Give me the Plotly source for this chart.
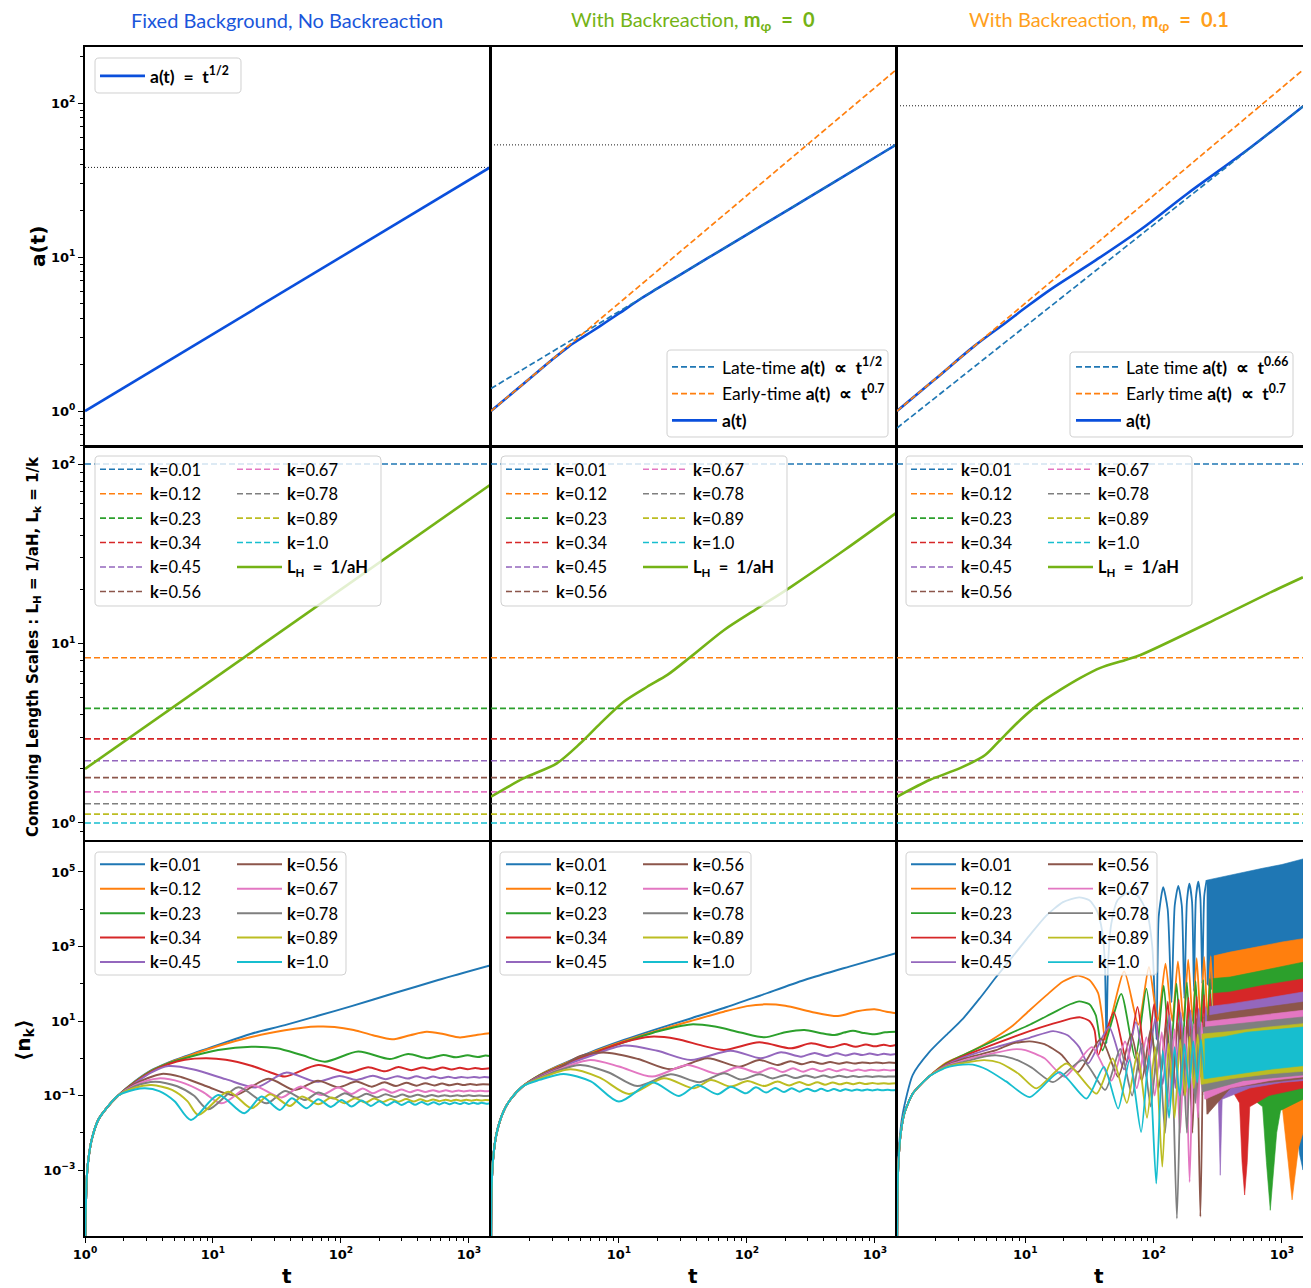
import math
import plotly.graph_objects as go

# page offset of the plot inside the browser page (default body margin)
OFF = 8
FW, FH = 1311 - OFF, 1288 - OFF


def PX(v):
    return (v - OFF) / FW


def PY(v):
    return 1 - (v - OFF) / FH


TAB = ['#1f77b4', '#ff7f0e', '#2ca02c', '#d62728', '#9467bd',
       '#8c564b', '#e377c2', '#7f7f7f', '#bcbd22', '#17becf']
A_BLUE = '#0a4fdc'
LH_GREEN = '#74b316'
TITLE_COLORS = ['#1a56db', '#74b316', '#ff9f1c']
SP = '\u2002'

# ---------------- Row 1 : scale factor a(t) ----------------
T_ENDS = [1.0, 1460.0]
A_FIXED = [1.0, 38.2]
A_BR0_T = [1, 2, 3, 4, 5, 6, 8, 10, 15, 20, 30, 50, 100, 300, 1000, 1460]
A_BR0 = [1.0, 1.62, 2.15, 2.6, 2.95, 3.25, 3.8, 4.3, 5.4, 6.25, 7.67, 9.9, 14.0, 24.2, 44.3, 53.5]
A_BR0_LATE = [1.4, 53.5]
A_BR0_EARLY = [1.0, 164.0]
A_BR1_T = [1, 2, 3.98, 7.08, 10, 15.8, 35.5, 79.4, 182, 537, 1460]
A_BR1 = [1.0, 1.62, 2.63, 3.76, 4.68, 6.17, 9.55, 15.1, 25.7, 49.5, 95.1]
A_BR1_LATE = [0.776, 95.0]
A_BR1_EARLY = [1.0, 164.0]
A_FINAL = [38.2, 53.5, 96.0]

# ---------------- Row 2 : comoving length scales ----------------
K_LABELS = ['0.01', '0.12', '0.23', '0.34', '0.45', '0.56', '0.67', '0.78', '0.89', '1.0']
LK_VALUES = [100.0, 8.33, 4.35, 2.94, 2.22, 1.79, 1.49, 1.28, 1.12, 1.0]
LH_FIXED = [2.0, 76.4]
LH_BR0_T = [1, 1.79, 3.27, 4.99, 7.16, 10.9, 16.6, 23.9, 36.4, 66.4, 121, 221, 579, 1460]
LH_BR0 = [1.40, 1.77, 2.15, 2.78, 3.59, 4.74, 5.74, 6.68, 8.43, 11.9, 15.7, 20.7, 33.2, 53.3]
LH_BR1_T = [1, 1.81, 3.10, 4.87, 6.38, 9.14, 13.1, 18.7, 26.9, 38.5, 60.3, 79.1, 316, 794, 1460]
LH_BR1 = [1.40, 1.74, 2.02, 2.39, 2.90, 3.75, 4.67, 5.51, 6.43, 7.31, 8.09, 8.63, 13.8, 19.1, 23.4]

# ---------------- Row 3 : occupation numbers (log10 t, log10 n) ----------------
FIX_RISE_LOGT = [0.0005, 0.004, 0.008, 0.013, 0.026, 0.052, 0.104, 0.156, 0.26]
FIX_RISE_LOGN = [-5.6, -4.3, -3.8, -3.26, -2.73, -2.19, -1.65, -1.39, -1.0]
FIX_K001_LOGT = [0.39, 0.52, 0.65, 0.78, 1.04, 1.30, 1.5625, 1.82, 2.083, 2.40, 2.76, 3.165]
FIX_K001_LOGN = [-0.62, -0.32, -0.12, 0.05, 0.36, 0.66, 0.89, 1.14, 1.40, 1.73, 2.10, 2.49]
FIX_K012_LOGT = [0.39, 0.52, 0.65, 0.78, 1.04, 1.30, 1.5625, 1.70, 1.82, 1.95, 2.10, 2.25, 2.40, 2.54, 2.67, 2.80, 2.93, 3.05, 3.165]
FIX_K012_LOGN = [-0.63, -0.33, -0.13, 0.03, 0.33, 0.57, 0.75, 0.82, 0.85, 0.84, 0.76, 0.62, 0.51, 0.62, 0.71, 0.65, 0.56, 0.62, 0.67]
FIX_K023_LOGT = [0.39, 0.52, 0.65, 0.78, 1.04, 1.30, 1.50, 1.70, 1.875, 2.135, 2.383, 2.526, 2.682, 2.80, 2.90, 2.99, 3.07, 3.13, 3.165]
FIX_K023_LOGN = [-0.64, -0.34, -0.14, 0.0, 0.22, 0.31, 0.27, 0.08, -0.09, 0.18, -0.02, 0.115, 0.0, 0.09, 0.025, 0.08, 0.035, 0.075, 0.06]
FIX_K034_LOGT = [0.39, 0.52, 0.65, 0.78, 0.95, 1.10, 1.30, 1.45, 1.5625, 1.823, 2.057, 2.214, 2.344, 2.45, 2.55, 2.64, 2.72, 2.795, 2.865, 2.93, 2.99, 3.05, 3.105, 3.165]
FIX_K034_LOGN = [-0.65, -0.36, -0.16, -0.04, 0.0, -0.04, -0.20, -0.38, -0.49, -0.18, -0.385, -0.24, -0.35, -0.235, -0.32, -0.245, -0.31, -0.25, -0.30, -0.255, -0.295, -0.26, -0.29, -0.27]
FIX_K045_LOGT = [0.39, 0.52, 0.651, 0.85, 1.10, 1.34, 1.57, 1.81, 1.99, 2.12, 2.25, 2.35, 2.44, 2.52, 2.59, 2.66, 2.72, 2.78, 2.84, 2.89, 2.94, 2.99, 3.04, 3.08, 3.12, 3.165]
FIX_K045_LOGN = [-0.67, -0.38, -0.21, -0.30, -0.56, -0.78, -0.385, -0.63, -0.475, -0.58, -0.47, -0.56, -0.48, -0.545, -0.485, -0.54, -0.49, -0.535, -0.495, -0.53, -0.50, -0.525, -0.50, -0.52, -0.505, -0.515]
FIX_K056_LOGT = [0.39, 0.599, 0.75, 0.95, 1.172, 1.432, 1.64, 1.82, 1.98, 2.12, 2.24, 2.34, 2.43, 2.51, 2.59, 2.66, 2.73, 2.79, 2.85, 2.91, 2.96, 3.01, 3.06, 3.11, 3.165]
FIX_K056_LOGN = [-0.69, -0.42, -0.50, -0.75, -0.99, -0.55, -0.85, -0.60, -0.778, -0.626, -0.761, -0.645, -0.745, -0.66, -0.735, -0.67, -0.73, -0.68, -0.725, -0.685, -0.72, -0.69, -0.715, -0.695, -0.705]
FIX_K067_LOGT = [0.39, 0.573, 0.75, 0.92, 1.068, 1.302, 1.536, 1.68, 1.849, 1.979, 2.083, 2.17, 2.25, 2.33, 2.40, 2.47, 2.54, 2.60, 2.66, 2.72, 2.77, 2.82, 2.87, 2.92, 2.96, 3.01, 3.05, 3.09, 3.13, 3.165]
FIX_K067_LOGN = [-0.72, -0.54, -0.64, -0.90, -1.21, -0.725, -1.05, -0.761, -0.984, -0.787, -0.957, -0.81, -0.94, -0.83, -0.925, -0.84, -0.91, -0.85, -0.905, -0.855, -0.90, -0.86, -0.895, -0.865, -0.89, -0.868, -0.888, -0.87, -0.885, -0.875]
FIX_K078_LOGT = [0.39, 0.547, 0.72, 0.85, 0.964, 1.198, 1.419, 1.5625, 1.719, 1.823, 1.94, 2.03, 2.12, 2.20, 2.28, 2.35, 2.42, 2.48, 2.54, 2.60, 2.66, 2.71, 2.76, 2.81, 2.86, 2.91, 2.95, 3.0, 3.04, 3.08, 3.12, 3.165]
FIX_K078_LOGN = [-0.75, -0.63, -0.75, -1.0, -1.37, -0.78, -1.21, -0.877, -1.118, -0.921, -1.082, -0.94, -1.06, -0.955, -1.05, -0.965, -1.04, -0.975, -1.035, -0.98, -1.03, -0.985, -1.025, -0.99, -1.02, -0.995, -1.02, -0.995, -1.015, -0.998, -1.013, -1.005]
FIX_K089_LOGT = [0.39, 0.521, 0.68, 0.80, 0.885, 1.12, 1.302, 1.445, 1.602, 1.693, 1.823, 1.927, 2.03, 2.11, 2.19, 2.26, 2.33, 2.39, 2.45, 2.51, 2.57, 2.62, 2.67, 2.72, 2.77, 2.82, 2.86, 2.90, 2.94, 2.98, 3.02, 3.06, 3.10, 3.13, 3.165]
FIX_K089_LOGN = [-0.79, -0.72, -0.85, -1.15, -1.52, -0.895, -1.341, -0.966, -1.279, -1.029, -1.234, -1.055, -1.207, -1.07, -1.19, -1.08, -1.175, -1.09, -1.165, -1.095, -1.16, -1.10, -1.155, -1.105, -1.15, -1.11, -1.145, -1.11, -1.14, -1.115, -1.14, -1.115, -1.135, -1.12, -1.13]
FIX_K100_LOGT = [0.39, 0.469, 0.58, 0.70, 0.828, 1.042, 1.245, 1.38, 1.523, 1.615, 1.732, 1.823, 1.922, 2.005, 2.083, 2.161, 2.234, 2.30, 2.36, 2.42, 2.475, 2.53, 2.58, 2.63, 2.68, 2.725, 2.77, 2.81, 2.85, 2.89, 2.93, 2.965, 3.0, 3.035, 3.07, 3.10, 3.135, 3.165]
FIX_K100_LOGN = [-0.84, -0.805, -0.88, -1.15, -1.654, -0.984, -1.475, -1.029, -1.386, -1.073, -1.341, -1.10, -1.306, -1.118, -1.297, -1.136, -1.279, -1.15, -1.265, -1.16, -1.255, -1.17, -1.25, -1.175, -1.245, -1.18, -1.24, -1.185, -1.235, -1.19, -1.23, -1.19, -1.225, -1.195, -1.22, -1.195, -1.22, -1.205]

BR0_RISE_LOGT = [0.0005, 0.005, 0.018, 0.044, 0.097, 0.149, 0.253]
BR0_RISE_LOGN = [-5.5, -3.44, -2.64, -2.01, -1.43, -1.12, -0.74]
BR0_K001_LOGT = [0.38, 0.515, 0.776, 1.038, 1.30, 1.561, 1.82, 2.10, 2.45, 2.80, 3.165]
BR0_K001_LOGN = [-0.45, -0.22, 0.16, 0.49, 0.79, 1.07, 1.35, 1.68, 2.10, 2.46, 2.82]
BR0_K012_LOGT = [0.38, 0.515, 0.776, 1.038, 1.30, 1.561, 1.82, 2.0, 2.136, 2.30, 2.50, 2.711, 2.86, 2.998, 3.09, 3.165]
BR0_K012_LOGN = [-0.45, -0.23, 0.14, 0.46, 0.74, 1.0, 1.25, 1.40, 1.447, 1.41, 1.25, 1.134, 1.26, 1.313, 1.25, 1.21]
BR0_K023_LOGT = [0.38, 0.515, 0.776, 1.038, 1.30, 1.561, 1.75, 1.95, 2.136, 2.30, 2.45, 2.57, 2.685, 2.76, 2.829, 2.91, 2.998, 3.08, 3.165]
BR0_K023_LOGN = [-0.46, -0.25, 0.11, 0.43, 0.72, 0.91, 0.85, 0.69, 0.562, 0.70, 0.759, 0.68, 0.625, 0.69, 0.741, 0.68, 0.643, 0.70, 0.715]
BR0_K034_LOGT = [0.38, 0.515, 0.776, 1.038, 1.247, 1.45, 1.65, 1.822, 2.097, 2.345, 2.502, 2.659, 2.76, 2.85, 2.93, 3.0, 3.07, 3.12, 3.165]
BR0_K034_LOGN = [-0.47, -0.26, 0.10, 0.43, 0.58, 0.52, 0.34, 0.223, 0.428, 0.267, 0.401, 0.294, 0.38, 0.31, 0.37, 0.32, 0.365, 0.33, 0.357]
BR0_K045_LOGT = [0.38, 0.515, 0.776, 1.038, 1.30, 1.561, 1.874, 2.11, 2.267, 2.423, 2.53, 2.62, 2.70, 2.77, 2.84, 2.90, 2.96, 3.02, 3.07, 3.12, 3.165]
BR0_K045_LOGN = [-0.48, -0.28, 0.06, 0.34, 0.20, -0.046, 0.205, 0.0, 0.16, 0.044, 0.145, 0.06, 0.135, 0.075, 0.13, 0.085, 0.125, 0.09, 0.12, 0.095, 0.115]
BR0_K056_LOGT = [0.38, 0.515, 0.70, 0.907, 1.15, 1.404, 1.691, 1.94, 2.097, 2.24, 2.34, 2.43, 2.51, 2.58, 2.65, 2.72, 2.78, 2.84, 2.90, 2.96, 3.01, 3.06, 3.11, 3.165]
BR0_K056_LOGN = [-0.50, -0.30, 0.06, 0.15, -0.02, -0.296, 0.0, -0.224, -0.046, -0.18, -0.08, -0.16, -0.09, -0.15, -0.10, -0.145, -0.105, -0.14, -0.11, -0.135, -0.112, -0.132, -0.115, -0.125]
BR0_K067_LOGT = [0.38, 0.515, 0.776, 1.0, 1.26, 1.534, 1.77, 1.927, 2.084, 2.19, 2.28, 2.36, 2.44, 2.51, 2.58, 2.64, 2.70, 2.76, 2.82, 2.87, 2.92, 2.97, 3.02, 3.07, 3.12, 3.165]
BR0_K067_LOGN = [-0.52, -0.32, -0.046, -0.22, -0.492, -0.18, -0.42, -0.242, -0.385, -0.26, -0.37, -0.27, -0.36, -0.28, -0.35, -0.29, -0.345, -0.295, -0.34, -0.30, -0.335, -0.305, -0.33, -0.31, -0.325, -0.315]
BR0_K078_LOGT = [0.38, 0.515, 0.698, 0.92, 1.142, 1.404, 1.63, 1.822, 1.95, 2.097, 2.20, 2.30, 2.38, 2.46, 2.53, 2.60, 2.66, 2.72, 2.78, 2.83, 2.88, 2.93, 2.98, 3.03, 3.08, 3.12, 3.165]
BR0_K078_LOGN = [-0.53, -0.34, -0.18, -0.38, -0.743, -0.43, -0.64, -0.40, -0.57, -0.43, -0.54, -0.45, -0.53, -0.46, -0.52, -0.465, -0.515, -0.47, -0.51, -0.475, -0.505, -0.48, -0.50, -0.483, -0.498, -0.486, -0.492]
BR0_K089_LOGT = [0.38, 0.619, 0.85, 1.077, 1.351, 1.587, 1.718, 1.874, 2.005, 2.136, 2.24, 2.33, 2.41, 2.48, 2.55, 2.61, 2.67, 2.73, 2.78, 2.83, 2.88, 2.93, 2.98, 3.02, 3.07, 3.11, 3.165]
BR0_K089_LOGN = [-0.55, -0.296, -0.52, -0.957, -0.537, -0.805, -0.582, -0.76, -0.61, -0.745, -0.625, -0.73, -0.635, -0.72, -0.645, -0.71, -0.65, -0.70, -0.655, -0.695, -0.66, -0.69, -0.663, -0.685, -0.667, -0.682, -0.672]
BR0_K100_LOGT = [0.38, 0.567, 0.78, 0.999, 1.26, 1.469, 1.613, 1.77, 1.874, 1.992, 2.07, 2.15, 2.22, 2.29, 2.35, 2.41, 2.47, 2.53, 2.58, 2.63, 2.68, 2.73, 2.77, 2.82, 2.86, 2.90, 2.94, 2.98, 3.02, 3.06, 3.10, 3.13, 3.165]
BR0_K100_LOGN = [-0.58, -0.421, -0.62, -1.163, -0.644, -1.011, -0.716, -0.966, -0.761, -0.939, -0.78, -0.92, -0.795, -0.905, -0.805, -0.895, -0.815, -0.885, -0.82, -0.88, -0.825, -0.875, -0.83, -0.87, -0.835, -0.865, -0.838, -0.862, -0.84, -0.86, -0.842, -0.857, -0.85]

BR1_RISE_LOGT = [0.0005, 0.005, 0.015, 0.03, 0.06, 0.122, 0.253]
BR1_RISE_LOGN = [-5.5, -3.5, -2.6, -2.0, -1.45, -0.95, -0.48]
BR1_K001_LOGT = [0.0005, 0.005, 0.015, 0.044, 0.122, 0.253, 0.383, 0.513, 0.643, 0.773, 0.904, 1.034, 1.164, 1.294, 1.42, 1.50, 1.56, 1.60, 1.62, 1.633, 1.645, 1.67, 1.72, 1.80, 1.88, 1.95, 1.99, 2.01, 2.023, 2.04, 2.075, 2.11, 2.14, 2.165, 2.193, 2.22, 2.24, 2.26, 2.279, 2.30, 2.315, 2.33, 2.349, 2.365, 2.38, 2.395, 2.414]
BR1_K001_LOGN = [-5.5, -3.4, -2.4, -1.5, -0.45, 0.17, 0.62, 1.06, 1.6, 2.18, 2.74, 3.30, 3.83, 4.19, 4.32, 4.24, 3.95, 3.4, 2.6, 0.4, 2.5, 3.6, 4.25, 4.45, 4.35, 3.9, 3.0, 1.5, 0.5, 3.8, 4.59, 4.0, 1.5, 4.1, 4.63, 4.1, 1.6, 4.2, 4.69, 4.2, 1.8, 4.3, 4.74, 4.3, 2.0, 4.35, 4.78]
BR1_K001_UP_LOGT = [2.414, 2.55, 2.7, 2.85, 3.0, 3.1, 3.165]
BR1_K001_UP_LOGN = [4.78, 4.88, 5.0, 5.1, 5.2, 5.3, 5.35]
BR1_K001_LO_LOGT = [2.414, 2.8, 3.0, 3.1, 3.14, 3.165]
BR1_K001_LO_LOGN = [2.0, 0.5, -0.5, -1.5, -2.6, -3.0]
BR1_K012_LOGT = [0.383, 0.513, 0.643, 0.773, 0.904, 1.034, 1.164, 1.294, 1.411, 1.50, 1.568, 1.60, 1.623, 1.771, 1.881, 1.964, 2.033, 2.093, 2.146, 2.190, 2.233, 2.270, 2.305, 2.336, 2.367, 2.394, 2.422, 2.446, 2.470]
BR1_K012_LOGN = [-0.12, 0.08, 0.30, 0.57, 0.88, 1.29, 1.69, 2.06, 2.22, 2.10, 1.75, 1.1, 0.5, 2.33, 0.9, 2.45, 1.0, 2.54, 1.0, 2.60, 1.0, 2.65, 1.0, 2.69, 1.0, 2.72, 1.0, 2.74, 1.0]
BR1_K012_UP_LOGT = [2.470, 2.596, 2.75, 2.857, 3.0, 3.165]
BR1_K012_UP_LOGN = [2.75, 2.85, 2.95, 3.03, 3.12, 3.21]
BR1_K012_LO_LOGT = [2.470, 2.8, 3.0, 3.05, 3.08, 3.10, 3.13, 3.165]
BR1_K012_LO_LOGN = [1.0, -0.7, -1.2, -2.8, -3.8, -3.3, -2.4, -2.0]
BR1_K023_LOGT = [0.383, 0.513, 0.773, 1.034, 1.216, 1.35, 1.42, 1.50, 1.55, 1.602, 1.748, 1.857, 1.944, 2.017, 2.079, 2.130, 2.179, 2.220, 2.260, 2.294, 2.328, 2.358, 2.387, 2.413, 2.439, 2.462]
BR1_K023_LOGN = [-0.14, 0.08, 0.50, 0.90, 1.22, 1.45, 1.53, 1.45, 1.15, 0.21, 1.73, -0.01, 1.87, 0.0, 1.95, 0.0, 2.0, 0.0, 2.04, 0.0, 2.07, 0.0, 2.10, 0.0, 2.13, 0.0]
BR1_K023_UP_LOGT = [2.462, 2.596, 2.857, 3.165]
BR1_K023_UP_LOGN = [2.14, 2.18, 2.36, 2.58]
BR1_K023_LO_LOGT = [2.462, 2.7, 2.85, 2.88, 2.91, 2.93, 2.96, 2.99, 3.165]
BR1_K023_LO_LOGN = [0.0, -0.9, -1.3, -2.8, -4.08, -3.4, -2.0, -1.4, -1.1]
BR1_K034_LOGT = [0.383, 0.513, 0.773, 1.034, 1.216, 1.372, 1.43, 1.50, 1.54, 1.568, 1.69, 1.792, 1.875, 1.944, 2.004, 2.061, 2.111, 2.155, 2.196, 2.236, 2.272, 2.305, 2.336, 2.365, 2.393, 2.418, 2.442, 2.465]
BR1_K034_LOGN = [-0.16, 0.05, 0.40, 0.73, 0.93, 1.08, 1.10, 1.0, 0.75, 0.08, 1.24, -0.1, 1.38, -0.3, 1.46, -0.4, 1.52, -0.5, 1.58, -0.5, 1.63, -0.5, 1.67, -0.5, 1.70, -0.5, 1.73, -0.5]
BR1_K034_UP_LOGT = [2.465, 2.596, 2.857, 3.165]
BR1_K034_UP_LOGN = [1.74, 1.78, 1.96, 2.13]
BR1_K034_LO_LOGT = [2.465, 2.6, 2.67, 2.69, 2.71, 2.73, 2.75, 2.9, 3.165]
BR1_K034_LO_LOGN = [-0.5, -0.8, -1.2, -2.8, -3.67, -2.8, -1.3, -1.0, -0.8]
BR1_K045_LOGT = [0.383, 0.513, 0.773, 1.034, 1.216, 1.33, 1.42, 1.49, 1.653, 1.771, 1.863, 1.944, 2.013, 2.072, 2.124, 2.170, 2.212, 2.253, 2.288, 2.322, 2.352, 2.382, 2.408, 2.435]
BR1_K045_LOGN = [-0.18, 0.02, 0.30, 0.55, 0.73, 0.62, 0.30, -0.14, 0.84, -0.3, 0.97, -0.5, 1.07, -0.7, 1.16, -0.8, 1.23, -0.9, 1.29, -1.0, 1.34, -1.0, 1.38, -1.0]
BR1_K045_UP_LOGT = [2.435, 2.596, 2.857, 3.165]
BR1_K045_UP_LOGN = [1.39, 1.46, 1.60, 1.78]
BR1_K045_LO_LOGT = [2.435, 2.505, 2.52, 2.535, 2.75, 3.0, 3.165]
BR1_K045_LO_LOGN = [-1.0, -1.1, -3.14, -1.1, -0.8, -0.65, -0.6]
BR1_K056_LOGT = [0.383, 0.513, 0.773, 0.904, 1.034, 1.15, 1.28, 1.41, 1.591, 1.724, 1.826, 1.908, 1.978, 2.041, 2.097, 2.146, 2.190, 2.230, 2.267, 2.303, 2.334, 2.365, 2.393, 2.420]
BR1_K056_LOGN = [-0.20, -0.02, 0.22, 0.40, 0.455, 0.38, 0.10, -0.37, 0.53, -0.5, 0.65, -0.6, 0.78, -0.8, 0.88, -0.9, 0.96, -1.0, 1.03, -2.0, 1.08, -4.25, 1.13, -1.5]
BR1_K056_UP_LOGT = [2.420, 2.596, 3.165]
BR1_K056_UP_LOGN = [1.14, 1.24, 1.51]
BR1_K056_LO_LOGT = [2.420, 2.6, 2.9, 3.165]
BR1_K056_LO_LOGN = [-1.5, -0.8, -0.65, -0.55]
BR1_K067_LOGT = [0.383, 0.513, 0.773, 0.904, 1.0, 1.15, 1.307, 1.519, 1.672, 1.778, 1.869, 1.944, 2.009, 2.064, 2.117, 2.164, 2.207, 2.246, 2.281, 2.314, 2.346, 2.375, 2.403]
BR1_K067_LOGN = [-0.21, -0.06, 0.15, 0.24, 0.22, 0.0, -0.50, 0.30, -0.6, 0.45, -0.8, 0.57, -1.0, 0.70, -1.3, 0.78, -2.0, 0.85, -3.32, 0.92, -1.6, 0.97, -1.1]
BR1_K067_UP_LOGT = [2.403, 2.596, 3.165]
BR1_K067_UP_LOGN = [0.98, 1.06, 1.29]
BR1_K067_LO_LOGT = [2.403, 2.6, 2.9, 3.165]
BR1_K067_LO_LOGN = [-1.1, -0.8, -0.6, -0.5]
BR1_K078_LOGT = [0.383, 0.513, 0.70, 0.773, 0.90, 1.05, 1.216, 1.447, 1.623, 1.740, 1.833, 1.908, 1.978, 2.037, 2.090, 2.137, 2.182, 2.223, 2.260, 2.294, 2.326, 2.356, 2.386]
BR1_K078_LOGN = [-0.22, -0.10, 0.06, 0.08, 0.0, -0.25, -0.64, -0.05, -0.85, 0.25, -1.0, 0.40, -1.3, 0.52, -2.0, 0.62, -4.3, 0.70, -2.0, 0.76, -1.2, 0.82, -0.9]
BR1_K078_UP_LOGT = [2.386, 2.7, 3.165]
BR1_K078_UP_LOGN = [0.83, 0.95, 1.11]
BR1_K078_LO_LOGT = [2.386, 2.7, 3.165]
BR1_K078_LO_LOGN = [-0.9, -0.6, -0.45]
BR1_K089_LOGT = [0.383, 0.513, 0.68, 0.80, 0.95, 1.086, 1.322, 1.556, 1.681, 1.792, 1.875, 1.949, 2.013, 2.068, 2.117, 2.164, 2.207, 2.246, 2.281, 2.314, 2.344, 2.375]
BR1_K089_LOGN = [-0.23, -0.13, -0.05, -0.12, -0.42, -0.81, -0.14, -0.95, 0.0, -1.2, 0.15, -1.6, 0.30, -2.91, 0.40, -1.6, 0.50, -1.0, 0.58, -0.8, 0.64, -0.7]
BR1_K089_UP_LOGT = [2.375, 2.6, 2.9, 3.165]
BR1_K089_UP_LOGN = [0.65, 0.72, 0.84, 0.93]
BR1_K089_LO_LOGT = [2.375, 2.6, 2.9, 3.165]
BR1_K089_LO_LOGN = [-0.7, -0.55, -0.42, -0.35]
BR1_K100_LOGT = [0.383, 0.513, 0.591, 0.70, 0.85, 1.034, 1.268, 1.477, 1.613, 1.724, 1.813, 1.903, 1.964, 2.021, 2.072, 2.121, 2.164, 2.204, 2.241, 2.276, 2.310, 2.340, 2.369, 2.398]
BR1_K100_LOGN = [-0.25, -0.17, -0.17, -0.30, -0.62, -1.04, -0.37, -1.08, -0.23, -1.35, -0.05, -1.98, 0.08, -3.36, 0.20, -1.6, 0.30, -1.0, 0.38, -0.8, 0.45, -0.65, 0.51, -0.55]
BR1_K100_UP_LOGT = [2.398, 2.55, 2.727, 2.95, 3.165]
BR1_K100_UP_LOGN = [0.52, 0.58, 0.70, 0.78, 0.84]
BR1_K100_LO_LOGT = [2.398, 2.6, 2.9, 3.165]
BR1_K100_LO_LOGN = [-0.55, -0.45, -0.3, -0.2]

FIX_CURVES = [(FIX_K001_LOGT, FIX_K001_LOGN), (FIX_K012_LOGT, FIX_K012_LOGN), (FIX_K023_LOGT, FIX_K023_LOGN),
              (FIX_K034_LOGT, FIX_K034_LOGN), (FIX_K045_LOGT, FIX_K045_LOGN), (FIX_K056_LOGT, FIX_K056_LOGN),
              (FIX_K067_LOGT, FIX_K067_LOGN), (FIX_K078_LOGT, FIX_K078_LOGN), (FIX_K089_LOGT, FIX_K089_LOGN),
              (FIX_K100_LOGT, FIX_K100_LOGN)]
BR0_CURVES = [(BR0_K001_LOGT, BR0_K001_LOGN), (BR0_K012_LOGT, BR0_K012_LOGN), (BR0_K023_LOGT, BR0_K023_LOGN),
              (BR0_K034_LOGT, BR0_K034_LOGN), (BR0_K045_LOGT, BR0_K045_LOGN), (BR0_K056_LOGT, BR0_K056_LOGN),
              (BR0_K067_LOGT, BR0_K067_LOGN), (BR0_K078_LOGT, BR0_K078_LOGN), (BR0_K089_LOGT, BR0_K089_LOGN),
              (BR0_K100_LOGT, BR0_K100_LOGN)]
BR1_CURVES = [
    (BR1_K001_LOGT, BR1_K001_LOGN, BR1_K001_UP_LOGT, BR1_K001_UP_LOGN, BR1_K001_LO_LOGT, BR1_K001_LO_LOGN),
    (BR1_K012_LOGT, BR1_K012_LOGN, BR1_K012_UP_LOGT, BR1_K012_UP_LOGN, BR1_K012_LO_LOGT, BR1_K012_LO_LOGN),
    (BR1_K023_LOGT, BR1_K023_LOGN, BR1_K023_UP_LOGT, BR1_K023_UP_LOGN, BR1_K023_LO_LOGT, BR1_K023_LO_LOGN),
    (BR1_K034_LOGT, BR1_K034_LOGN, BR1_K034_UP_LOGT, BR1_K034_UP_LOGN, BR1_K034_LO_LOGT, BR1_K034_LO_LOGN),
    (BR1_K045_LOGT, BR1_K045_LOGN, BR1_K045_UP_LOGT, BR1_K045_UP_LOGN, BR1_K045_LO_LOGT, BR1_K045_LO_LOGN),
    (BR1_K056_LOGT, BR1_K056_LOGN, BR1_K056_UP_LOGT, BR1_K056_UP_LOGN, BR1_K056_LO_LOGT, BR1_K056_LO_LOGN),
    (BR1_K067_LOGT, BR1_K067_LOGN, BR1_K067_UP_LOGT, BR1_K067_UP_LOGN, BR1_K067_LO_LOGT, BR1_K067_LO_LOGN),
    (BR1_K078_LOGT, BR1_K078_LOGN, BR1_K078_UP_LOGT, BR1_K078_UP_LOGN, BR1_K078_LO_LOGT, BR1_K078_LO_LOGN),
    (BR1_K089_LOGT, BR1_K089_LOGN, BR1_K089_UP_LOGT, BR1_K089_UP_LOGN, BR1_K089_LO_LOGT, BR1_K089_LO_LOGN),
    (BR1_K100_LOGT, BR1_K100_LOGN, BR1_K100_UP_LOGT, BR1_K100_UP_LOGN, BR1_K100_LO_LOGT, BR1_K100_LO_LOGN),
]

# ---------------- figure ----------------
fig = go.Figure()


def dec(v):
    return [10.0 ** x for x in v]


def axes_of(n):
    return ('x' if n == 1 else 'x%d' % n), ('y' if n == 1 else 'y%d' % n)


def add_line(n, x, y, color, width, dash=None, name=None, legend='legend',
             rank=1000, group=None, shape='linear', smoothing=None):
    xa, ya = axes_of(n)
    ln = dict(color=color, width=width, shape=shape)
    if dash:
        ln['dash'] = dash
    if shape == 'spline' and smoothing is not None:
        ln['smoothing'] = smoothing
    fig.add_trace(go.Scatter(
        x=x, y=y, xaxis=xa, yaxis=ya, mode='lines', line=ln,
        name=name or '', showlegend=name is not None, legend=legend,
        legendrank=rank, legendgroup=group, hoverinfo='skip'))


DASH = '6px,3px'
DOT = '1px,2px'

# Row 1
add_line(1, T_ENDS, [A_FINAL[0]] * 2, 'black', 0.9, dash=DOT)
add_line(1, T_ENDS, A_FIXED, A_BLUE, 2.6, name='<b>a(t)' + SP + '=' + SP + 't<sup>1/2</sup></b>', legend='legend')

add_line(2, T_ENDS, [A_FINAL[1]] * 2, 'black', 0.9, dash=DOT)
add_line(2, A_BR0_T, A_BR0, A_BLUE, 2.6, name='<b>a(t)</b>', legend='legend2', rank=3, group='b3', shape='spline')
add_line(2, T_ENDS, A_BR0_LATE, TAB[0], 1.7, dash=DASH,
         name='Late-time <b>a(t)' + SP + '∝' + SP + 't<sup>1/2</sup></b>', legend='legend2', rank=1, group='b1')
add_line(2, T_ENDS, A_BR0_EARLY, TAB[1], 1.7, dash=DASH,
         name='Early-time <b>a(t)' + SP + '∝' + SP + 't<sup>0.7</sup></b>', legend='legend2', rank=2, group='b2')

add_line(3, T_ENDS, [A_FINAL[2]] * 2, 'black', 0.9, dash=DOT)
add_line(3, A_BR1_T, A_BR1, A_BLUE, 2.6, name='<b>a(t)</b>', legend='legend3', rank=3, group='c3', shape='spline')
add_line(3, T_ENDS, A_BR1_LATE, TAB[0], 1.7, dash=DASH,
         name='Late time <b>a(t)' + SP + '∝' + SP + 't<sup>0.66</sup></b>', legend='legend3', rank=1, group='c1')
add_line(3, T_ENDS, A_BR1_EARLY, TAB[1], 1.7, dash=DASH,
         name='Early time <b>a(t)' + SP + '∝' + SP + 't<sup>0.7</sup></b>', legend='legend3', rank=2, group='c2')

# Row 2
LH_DATA = [(T_ENDS, LH_FIXED), (LH_BR0_T, LH_BR0), (LH_BR1_T, LH_BR1)]
for c in range(3):
    n = 4 + c
    la, lb = 'legend%d' % (4 + 2 * c), 'legend%d' % (5 + 2 * c)
    for i, lab in enumerate(K_LABELS):
        add_line(n, T_ENDS, [LK_VALUES[i]] * 2, TAB[i], 1.6, dash=DASH,
                 name='<b>k</b>=' + lab, legend=la if i < 6 else lb)
    tt, ll = LH_DATA[c]
    add_line(n, tt, ll, LH_GREEN, 2.6, name='<b>L<sub>H</sub>' + SP + '=' + SP + '1/aH</b>', legend=lb,
             shape='spline' if c > 0 else 'linear', smoothing=0.8)

# Row 3 (columns 1, 2)
for c, (rise_t, rise_n, curves) in enumerate([(FIX_RISE_LOGT, FIX_RISE_LOGN, FIX_CURVES),
                                             (BR0_RISE_LOGT, BR0_RISE_LOGN, BR0_CURVES)]):
    n = 7 + c
    la, lb = 'legend%d' % (10 + 2 * c), 'legend%d' % (11 + 2 * c)
    for i, (lt, lnv) in enumerate(curves):
        add_line(n, dec(rise_t + lt), dec(rise_n + lnv), TAB[i], 2.0,
                 name='<b>k</b>=' + K_LABELS[i], legend=la if i < 5 else lb,
                 shape='spline', smoothing=0.8)

# Row 3 (column 3): resolved oscillations + densely oscillating band
for i, (lt, lnv, ut, un, lot, lon) in enumerate(BR1_CURVES):
    if i == 0:
        xt, yn = lt, lnv
    else:
        xt, yn = BR1_RISE_LOGT + lt, BR1_RISE_LOGN + lnv
    add_line(9, dec(xt), dec(yn), TAB[i], 1.8, name='<b>k</b>=' + K_LABELS[i],
             legend='legend14' if i < 5 else 'legend15', shape='spline', smoothing=0.6)
    fig.add_trace(go.Scatter(
        x=dec(ut + lot[::-1]), y=dec(un + lon[::-1]), xaxis='x9', yaxis='y9',
        mode='lines', fill='toself', fillcolor=TAB[i],
        line=dict(color=TAB[i], width=0.6), showlegend=False, hoverinfo='skip'))

# ---------------- axes ----------------
COLS = [(85, 490), (491, 896), (897, 1303)]
ROWS = [(47, 446), (447, 840), (842, 1236)]
X_RANGE = [0, 3.165]
Y_RANGES = [[-0.227, 2.364], [-0.095, 2.095], [-4.77, 5.805]]
TICK_FONT = dict(family='DejaVu Sans', size=13, color='black')


def sup_label(e):
    return '<b>10<sup>%s</sup></b>' % str(e).replace('-', '\u2212')


X_MAJOR = [1, 10, 100, 1000]
X_MINOR = [m * 10 ** d for d in range(0, 4) for m in range(2, 10) if m * 10 ** d < 1460]
Y_MAJOR = [[1, 10, 100], [1, 10, 100], [10.0 ** e for e in (-3, -1, 1, 3, 5)]]
Y_MINOR = [[0.6, 0.7, 0.8, 0.9] + [m * 10 ** d for d in (0, 1) for m in range(2, 10)] + [200],
           [0.9] + [m * 10 ** d for d in (0, 1) for m in range(2, 10)],
           [10.0 ** e for e in (-4, -2, 0, 2, 4)]]

layout_axes = {}
for r in range(3):
    for c in range(3):
        n = r * 3 + c + 1
        xa, ya = axes_of(n)
        x0, x1 = COLS[c]
        y0, y1 = ROWS[r]
        xax = dict(type='log', range=X_RANGE, domain=[PX(x0), PX(x1)], anchor=ya, automargin=False,
                   showline=True, mirror=True, linecolor='black', linewidth=2.2,
                   showgrid=False, zeroline=False, ticks='', showticklabels=False)
        if r == 2:
            vals = X_MAJOR if c == 0 else X_MAJOR[1:]
            xax.update(ticks='outside', ticklen=5, tickwidth=1.2, tickcolor='black',
                       tickmode='array', tickvals=vals,
                       ticktext=[sup_label(int(round(math.log10(v)))) for v in vals],
                       showticklabels=True, tickfont=TICK_FONT,
                       minor=dict(ticks='outside', ticklen=3, tickwidth=0.8, tickcolor='black',
                                  tickmode='array', tickvals=X_MINOR))
        yax = dict(type='log', range=Y_RANGES[r], domain=[PY(y1), PY(y0)], anchor=xa, automargin=False,
                   showline=True, mirror=True, linecolor='black', linewidth=2.2,
                   showgrid=False, zeroline=False, ticks='', showticklabels=False)
        if c == 0:
            vals = Y_MAJOR[r]
            yax.update(ticks='outside', ticklen=5, tickwidth=1.2, tickcolor='black',
                       tickmode='array', tickvals=vals,
                       ticktext=[sup_label(int(round(math.log10(v)))) for v in vals],
                       showticklabels=True, tickfont=TICK_FONT,
                       minor=dict(ticks='outside', ticklen=3, tickwidth=0.8, tickcolor='black',
                                  tickmode='array', tickvals=Y_MINOR[r]))
        layout_axes['xaxis' if n == 1 else 'xaxis%d' % n] = xax
        layout_axes['yaxis' if n == 1 else 'yaxis%d' % n] = yax

# ---------------- legends ----------------


def leg(lx, ly, gap=0, size=16.5):
    return dict(x=PX(lx), y=PY(ly), xanchor='left', yanchor='top', xref='paper', yref='paper',
                bgcolor='rgba(0,0,0,0)', borderwidth=0,
                font=dict(family='Lato', size=size, color='black'), itemwidth=45,
                tracegroupgap=gap, orientation='v')


legends = {
    'legend': leg(95, 58, 0, 17.5), 'legend2': leg(667, 349, 1, 17.5), 'legend3': leg(1071, 349, 1, 17.5),
    'legend4': leg(95, 452), 'legend5': leg(232, 452),
    'legend6': leg(501, 452), 'legend7': leg(638, 452),
    'legend8': leg(906, 452), 'legend9': leg(1043, 452),
    'legend10': leg(95, 847), 'legend11': leg(232, 847),
    'legend12': leg(501, 847), 'legend13': leg(638, 847),
    'legend14': leg(906, 847), 'legend15': leg(1043, 847),
}


def frame(x0, y0, x1, y1, r=4):
    def X(v):
        return '%.6f' % PX(v)

    def Y(v):
        return '%.6f' % PY(v)
    path = ('M%s,%s L%s,%s Q%s,%s %s,%s L%s,%s Q%s,%s %s,%s L%s,%s Q%s,%s %s,%s L%s,%s Q%s,%s %s,%s Z' % (
        X(x0 + r), Y(y0), X(x1 - r), Y(y0), X(x1), Y(y0), X(x1), Y(y0 + r),
        X(x1), Y(y1 - r), X(x1), Y(y1), X(x1 - r), Y(y1),
        X(x0 + r), Y(y1), X(x0), Y(y1), X(x0), Y(y1 - r),
        X(x0), Y(y0 + r), X(x0), Y(y0), X(x0 + r), Y(y0)))
    return dict(type='path', xref='paper', yref='paper', path=path,
                fillcolor='rgba(255,255,255,0.8)', line=dict(color='#d0d0d0', width=1), layer='above')


FRAMES = [(95, 58, 241, 93), (667, 350, 888, 437), (1070, 352, 1293, 437),
          (95, 456, 381, 606), (501, 456, 787, 606), (906, 456, 1192, 606),
          (95, 852, 346, 975), (500, 852, 751, 975), (906, 852, 1157, 975)]
shapes = [frame(*f) for f in FRAMES]

# ---------------- titles / labels ----------------


def ann(text, x, y, size, color='black', angle=0, family='Lato'):
    return dict(text=text, x=PX(x), y=PY(y), xref='paper', yref='paper', showarrow=False,
                xanchor='center', yanchor='middle', textangle=angle,
                font=dict(family=family, size=size, color=color))


annotations = [
    ann('Fixed Background, No Backreaction', 287, 20, 20, TITLE_COLORS[0]),
    ann('With Backreaction, <b>m<sub>φ</sub>' + SP + '=' + SP + '0</b>', 693, 20, 20, TITLE_COLORS[1]),
    ann('With Backreaction, <b>m<sub>φ</sub>' + SP + '=' + SP + '0.1</b>', 1099, 20, 20, TITLE_COLORS[2]),
    ann('<b>a(t)</b>', 38, 247, 20, angle=-90, family='DejaVu Sans'),
    ann('<b>Comoving Length Scales : L<sub>H</sub> = 1/aH, L<sub>k</sub> = 1/k</b>', 33, 647, 15,
        angle=-90, family='DejaVu Sans'),
    ann('<b>⟨n<sub>k</sub>⟩</b>', 24, 1040, 20, angle=-90, family='DejaVu Sans'),
    ann('<b>t</b>', 287, 1276, 20, family='DejaVu Sans'),
    ann('<b>t</b>', 693, 1276, 20, family='DejaVu Sans'),
    ann('<b>t</b>', 1099, 1276, 20, family='DejaVu Sans'),
]

fig.update_layout(
    width=FW, height=FH, margin=dict(l=0, r=0, t=0, b=0, autoexpand=False),
    paper_bgcolor='white', plot_bgcolor='white', showlegend=True,
    shapes=shapes, annotations=annotations, **layout_axes, **legends)

fig.write_html('out.html')
